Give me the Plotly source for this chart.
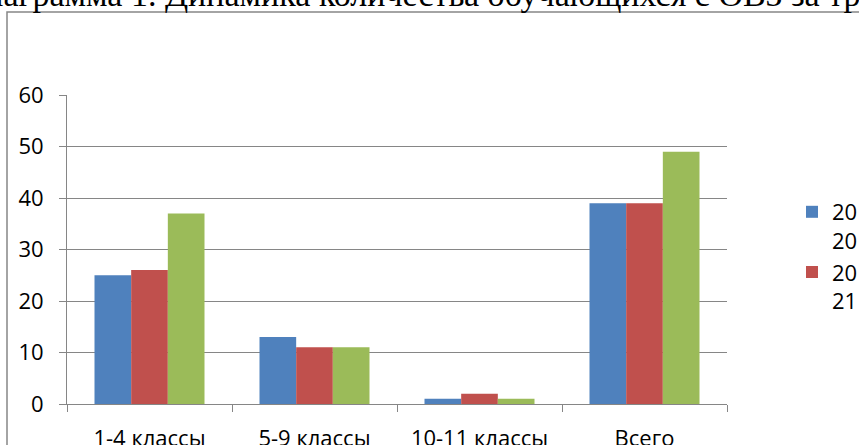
import plotly.graph_objects as go

categories = ["1-4 классы", "5-9 классы", "10-11 классы", "Всего"]
series_names = ["20<br>20", "20<br>21", "20<br>22"]
values_2020 = [25, 13, 1, 39]
values_2021 = [26, 11, 2, 39]
values_2022 = [37, 11, 1, 49]
colors = ["#4F81BD", "#C0504D", "#9BBB59"]
y_ticks = [0, 10, 20, 30, 40, 50, 60]
title_text = "Диаграмма 1. Динамика количества обучающихся с ОВЗ за три года"

W, H = 859, 445
L, R, T, B = 67, 727, 95, 404  # plot area in pixels


def px_x(p):
    return (p - L) / (R - L)


def px_y(p):
    return (B - p) / (B - T)


fig = go.Figure()
for name, vals, col, show in zip(series_names, [values_2020, values_2021, values_2022], colors, [True, True, False]):
    fig.add_trace(go.Bar(x=categories, y=vals, name=name, marker=dict(color=col, line=dict(width=0)),
                         showlegend=show))

font_main = "Open Sans, Lato, sans-serif"
grid = "#868686"

fig.update_layout(
    width=W, height=H,
    margin=dict(l=L, r=W - R, t=T, b=H - B, pad=0, autoexpand=False),
    paper_bgcolor="white", plot_bgcolor="white",
    barmode="group", bargap=1/3, bargroupgap=0,
    font=dict(family=font_main, size=22, color="black"),
    showlegend=True,
    legend=dict(x=px_x(792), y=px_y(191), xanchor="left", yanchor="top", valign="top",
                font=dict(size=22, family=font_main), bgcolor="rgba(0,0,0,0)",
                tracegroupgap=0, itemwidth=30),
    xaxis=dict(showline=True, linecolor=grid, linewidth=1, ticks="outside", tickson="boundaries",
               ticklen=7, tickcolor=grid, showgrid=False, ticklabelstandoff=15, automargin=False,
               tickfont=dict(size=22, family=font_main)),
    yaxis=dict(range=[0, 60], tickvals=y_ticks, showline=True, linecolor=grid, linewidth=1,
               ticks="outside", ticklen=7, tickcolor=grid, showgrid=True, gridcolor=grid, gridwidth=1,
               zeroline=False, ticklabelstandoff=11, automargin=False,
               tickfont=dict(size=22, family=font_main)),
    shapes=[dict(type="rect", xref="paper", yref="paper", x0=px_x(7), x1=px_x(W + 50),
                 y0=px_y(H + 50), y1=px_y(12), line=dict(color=grid, width=1.5),
                 fillcolor="rgba(0,0,0,0)", layer="below")],
    annotations=[dict(text=title_text, xref="paper", yref="paper", x=px_x(-40), y=px_y(6),
                      xanchor="left", yanchor="bottom", showarrow=False, yshift=-9,
                      font=dict(family="Liberation Serif, Times New Roman, serif", size=34, color="black"))],
)

fig.write_html("out.html", config={"displayModeBar": False},
               post_script="document.body.style.margin='0';document.body.style.overflow='hidden';")
